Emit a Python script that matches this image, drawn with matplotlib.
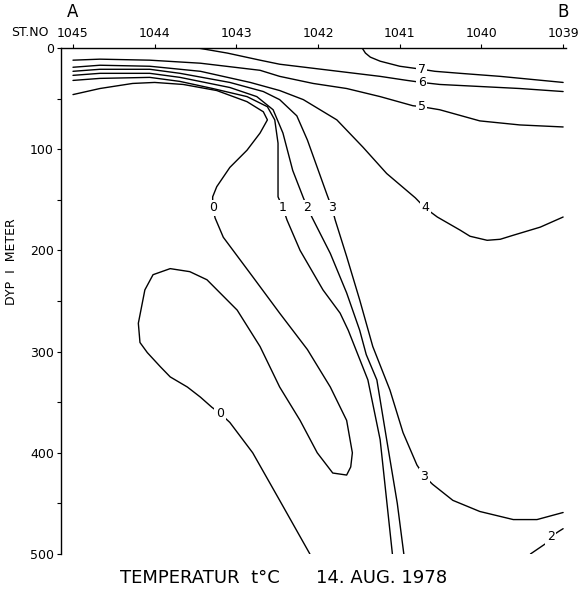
import matplotlib
matplotlib.use("Agg")
import matplotlib.pyplot as plt
import numpy as np

# stations along the section, A (1045) to B (1039)
stations = ["1045", "1044", "1043", "1042", "1041", "1040", "1039"]
station_pos = [0, 1, 2, 3, 4, 5, 6]

# isotherms: x = station position, d = depth (m)
t7_x = [3.54, 3.58, 3.64, 3.76, 4.00, 4.27, 4.43, 4.74, 5.23, 6.00]
t7_d = [0, 5, 9, 13, 18, 21, 23, 25, 28, 34]

t6_x = [1.53, 1.89, 2.29, 2.53, 2.94, 3.35, 3.76, 4.09, 4.27, 4.49, 4.98, 5.47, 6.00]
t6_d = [0, 5, 12, 16, 20, 24, 28, 32, 34, 36, 38, 40, 43]

t5_x = [0, 0.33, 0.94, 1.56, 2.29, 2.53, 2.94, 3.35, 3.76, 4.16, 4.27, 4.49, 4.98, 5.47, 6.00]
t5_d = [12, 11, 12, 15, 22, 28, 35, 40, 48, 57, 58, 61, 72, 76, 78]

t4_x = [0, 0.33, 0.94, 1.56, 2.17, 2.53, 2.82, 3.23, 3.55, 3.84, 4.19, 4.31, 4.46,
        4.74, 4.86, 5.07, 5.23, 5.39, 5.72, 6.00]
t4_d = [19, 17, 18, 23, 34, 42, 51, 71, 98, 124, 148, 158, 167,
        180, 186, 190, 189, 185, 177, 167]

t3_x = [0, 0.33, 0.94, 1.31, 1.92, 2.33, 2.53, 2.74, 2.87, 2.99, 3.11, 3.17, 3.21, 3.35,
        3.51, 3.67, 3.88, 4.04, 4.21, 4.30, 4.40, 4.65, 4.98, 5.39, 5.68, 6.00]
t3_d = [23, 21, 21, 25, 34, 43, 51, 67, 91, 118, 145, 158, 170, 206,
        249, 295, 338, 380, 412, 423, 431, 447, 458, 466, 466, 459]

t2_x = [0, 0.33, 0.94, 1.31, 1.92, 2.25, 2.45, 2.57, 2.69, 2.82, 2.87, 2.93, 3.15, 3.35,
        3.51, 3.59, 3.72, 3.84, 3.97, 4.05]
t2_d = [27, 25, 25, 29, 39, 48, 61, 84, 121, 148, 158, 168, 203, 242,
        279, 303, 328, 387, 450, 500]

t1_x = [0, 0.33, 0.94, 1.31, 1.71, 2.13, 2.38, 2.47, 2.51, 2.51, 2.57, 2.62, 2.78, 3.06,
        3.27, 3.37, 3.61, 3.76, 3.91]
t1_d = [32, 30, 29, 33, 40, 48, 58, 71, 94, 147, 158, 170, 200, 239,
        262, 279, 328, 387, 500]

t0_x = [0, 0.33, 0.73, 1.00, 1.35, 1.76, 2.13, 2.33, 2.38, 2.29, 2.13, 1.92, 1.76, 1.71,
        1.71, 1.74, 1.84, 2.20, 2.53, 2.87, 3.15, 3.35, 3.42, 3.40, 3.35, 3.18, 2.99,
        2.78, 2.53, 2.29, 2.01, 1.64, 1.43, 1.19, 0.98, 0.88, 0.80, 0.82, 0.91, 1.07,
        1.19, 1.40, 1.56, 1.70, 1.80, 1.92, 2.20, 2.53, 2.90]
t0_d = [46, 40, 35, 34, 36, 42, 53, 63, 71, 84, 101, 118, 137, 147,
        158, 168, 187, 226, 262, 298, 335, 368, 400, 414, 422, 420, 400,
        368, 335, 295, 259, 229, 221, 218, 224, 239, 272, 291, 301, 315,
        325, 335, 345, 355, 361, 370, 400, 447, 500]

t2b_x = [5.60, 5.80, 5.85, 5.94, 6.00]
t2b_d = [500, 489, 483, 478, 475]

isotherms = [(t7_x, t7_d), (t6_x, t6_d), (t5_x, t5_d), (t4_x, t4_d), (t3_x, t3_d),
             (t2_x, t2_d), (t1_x, t1_d), (t0_x, t0_d), (t2b_x, t2b_d)]

# contour labels
lab_x = [4.27, 4.27, 4.27, 4.31, 1.71, 2.57, 2.87, 3.17, 4.30, 1.80, 5.85]
lab_d = [21, 34, 58, 158, 158, 158, 158, 158, 423, 361, 483]
lab_t = ["7", "6", "5", "4", "0", "1", "2", "3", "3", "0", "2"]

fig = plt.figure(figsize=(5.78, 5.93), dpi=100)
ax = fig.add_axes([0.1055, 0.0658, 0.873, 0.8532])

for xx, dd in isotherms:
    ax.plot(xx, dd, color="black", lw=1.0, solid_joinstyle="round",
            solid_capstyle="round")

for x, d, t in zip(lab_x, lab_d, lab_t):
    ax.text(x, d, t, fontsize=9, ha="center", va="center",
            bbox=dict(facecolor="white", edgecolor="none", pad=1.2))

ax.set_xlim(-0.147, 6.03)
ax.set_ylim(500, 0)

ax.spines["right"].set_visible(False)
ax.spines["bottom"].set_visible(False)
ax.spines["top"].set_linewidth(1.0)
ax.spines["left"].set_linewidth(1.0)

ax.xaxis.tick_top()
ax.set_xticks(station_pos)
ax.set_xticklabels(stations, fontsize=9)
ax.tick_params(axis="x", direction="out", length=3, width=0.8, pad=3)

ax.set_yticks(np.arange(0, 501, 100))
ax.set_yticks(np.arange(50, 500, 100), minor=True)
ax.tick_params(axis="y", which="both", direction="out", length=3, width=0.8, pad=2,
               labelsize=9)

fig.text(30 / 578, 1 - 32 / 593, "ST.NO", fontsize=9, ha="center", va="center")
fig.text(73 / 578, 1 - 12 / 593, "A", fontsize=12, ha="center", va="center")
fig.text(563 / 578, 1 - 12 / 593, "B", fontsize=12, ha="center", va="center")
fig.text(12 / 578, 1 - 262 / 593, "DYP  I  METER", fontsize=9, rotation=90,
         ha="center", va="center")
fig.text(200 / 578, 1 - 578 / 593, "TEMPERATUR  t°C", fontsize=13, ha="center",
         va="center")
fig.text(382 / 578, 1 - 578 / 593, "14. AUG. 1978", fontsize=13, ha="center",
         va="center")

fig.savefig("out.png", dpi=100)
